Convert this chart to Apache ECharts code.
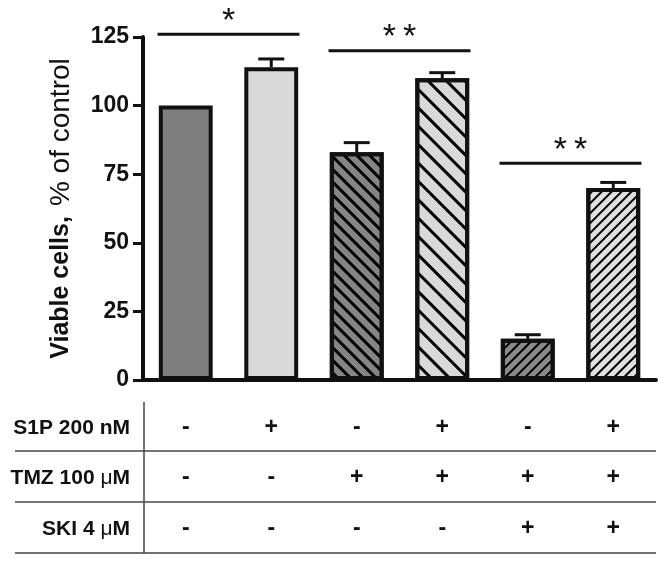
<!DOCTYPE html>
<html>
<head>
<meta charset="utf-8">
<script src="https://cdn.jsdelivr.net/npm/echarts@6/dist/echarts.min.js"></script>
<style>
html,body{margin:0;padding:0;background:#fff;}
#c{width:666px;height:562px;}
</style>
</head>
<body>
<div id="c"></div>
<script>
// ---- data ----
var categories = ['c1', 'c2', 'c3', 'c4', 'c5', 'c6'];
var viable = [100, 114, 83, 110, 15, 70];          // % of control
var sem = [0, 3, 3.5, 2, 1.5, 2];                   // upper error
var yTicks = {min: 0, max: 125, interval: 25};
var rowLabels = ['S1P 200 nM', 'TMZ 100 {m|\u03bc}M', 'SKI 4 {m|\u03bc}M'];
var s1pRow = ['-', '+', '-', '+', '-', '+'];
var tmzRow = ['-', '-', '+', '+', '+', '+'];
var skiRow = ['-', '-', '-', '-', '+', '+'];
var sigPairs = [[0, 1], [2, 3], [4, 5]];
var sigLevel = [126, 120, 79];
var sigMarks = ['*', '**', '**'];

// ---- styles ----
var FONT = 'Liberation Sans, Arial, sans-serif';
var fills = ['#7f7f7f', '#d9d9d9', '#858585', '#d9d9d9', '#8a8a8a', '#e0e0e0'];
function stripe(w, gap, rot) {
  return {symbol: 'rect', symbolSize: 1, symbolKeepAspect: false,
          dashArrayX: [1, 0], dashArrayY: [w, gap], rotation: rot, color: '#000'};
}
var decals = [null, null,
  stripe(2.5, 6, Math.PI / 4),
  stripe(2.5, 10, Math.PI / 4),
  stripe(1.6, 4.8, -Math.PI / 4),
  stripe(1.6, 4.8, -Math.PI / 4)];

var barData = viable.map(function (v, i) {
  var st = {color: fills[i], borderColor: '#111', borderWidth: 4};
  if (decals[i]) st.decal = decals[i];
  return {value: v, itemStyle: st};
});

var rowAxis = function (row, idx, offset) {
  return {
    type: 'category', gridIndex: 0, data: row, position: 'bottom', offset: offset,
    axisLine: {show: false}, axisTick: {show: false},
    axisLabel: {margin: 0, verticalAlign: 'middle', fontFamily: FONT, fontWeight: 'bold', fontSize: 23, color: '#111', interval: 0},
    name: rowLabels[idx], nameLocation: 'start', nameGap: 13,
    nameTextStyle: {fontFamily: FONT, fontWeight: 'bold', fontSize: 21, color: '#111', align: 'right', verticalAlign: 'middle',
      rich: {m: {fontFamily: FONT, fontSize: 21, fontWeight: 'normal', color: '#111'}}}
  };
};

var chart = echarts.init(document.getElementById('c'), null, {renderer: 'canvas'});
chart.setOption({
  backgroundColor: '#fff',
  animation: false,
  grid: {left: 143, right: 10, top: 37, bottom: 182, containLabel: false},
  xAxis: [
    {type: 'category', data: categories,
     axisLine: {show: true, lineStyle: {color: '#111', width: 4}},
     axisTick: {show: false}, axisLabel: {show: false}},
    rowAxis(s1pRow, 0, 48),
    rowAxis(tmzRow, 1, 98),
    rowAxis(skiRow, 2, 149)
  ],
  yAxis: {
    type: 'value', min: yTicks.min, max: yTicks.max, interval: yTicks.interval,
    splitLine: {show: false},
    axisLine: {show: true, lineStyle: {color: '#111', width: 4}},
    axisTick: {show: true, length: 10, lineStyle: {color: '#111', width: 3}},
    axisLabel: {margin: 14, fontFamily: FONT, fontWeight: 'bold', fontSize: 23, color: '#111'},
    name: '{b|Viable cells,}   {n|% of control}',
    nameLocation: 'middle', nameRotate: 90, nameGap: 68,
    nameTextStyle: {rich: {
      b: {fontFamily: FONT, fontWeight: 'bold', fontSize: 25, color: '#111'},
      n: {fontFamily: FONT, fontWeight: 'normal', fontSize: 28, color: '#111'}
    }}
  },
  series: [
    {type: 'bar', data: barData, barWidth: '63%', z: 2},
    {type: 'custom', z: 3, clip: false,
     data: viable.map(function (v, i) { return [i, v, v + sem[i]]; }),
     renderItem: function (params, api) {
       var i = api.value(0);
       if (!(sem[i] > 0)) return null;
       var a = api.coord([i, api.value(1)]);
       var b = api.coord([i, api.value(2)]);
       var hw = 13;
       return {type: 'group', children: [
         {type: 'line', shape: {x1: a[0], y1: a[1], x2: b[0], y2: b[1]}, style: {stroke: '#111', lineWidth: 3}},
         {type: 'line', shape: {x1: b[0] - hw, y1: b[1], x2: b[0] + hw, y2: b[1]}, style: {stroke: '#111', lineWidth: 3}}
       ]};
     }},
    {type: 'custom', z: 3, clip: false,
     data: sigPairs.map(function (p, k) { return [p[0], p[1], sigLevel[k]]; }),
     renderItem: function (params, api) {
       var p0 = api.coord([api.value(0), api.value(2)]);
       var p1 = api.coord([api.value(1), api.value(2)]);
       var half = api.size([1, 0])[0] * 0.33;
       var mark = sigMarks[params.dataIndex].split('').join('\u2009');
       return {type: 'group', children: [
         {type: 'line', shape: {x1: p0[0] - half, y1: p0[1], x2: p1[0] + half, y2: p1[1]}, style: {stroke: '#111', lineWidth: 3}},
         {type: 'text', style: {text: mark, x: (p0[0] + p1[0]) / 2, y: p0[1] - 13,
           align: 'center', verticalAlign: 'middle', font: 'normal 34px ' + FONT, fill: '#111'}}
       ]};
     }}
  ],
  graphic: [
    {type: 'line', shape: {x1: 15, y1: 451, x2: 656, y2: 451}, style: {stroke: '#444', lineWidth: 1.5}},
    {type: 'line', shape: {x1: 15, y1: 502, x2: 656, y2: 502}, style: {stroke: '#444', lineWidth: 1.5}},
    {type: 'line', shape: {x1: 15, y1: 553, x2: 656, y2: 553}, style: {stroke: '#444', lineWidth: 1.5}},
    {type: 'line', shape: {x1: 144, y1: 402, x2: 144, y2: 553}, style: {stroke: '#444', lineWidth: 1.5}}
  ]
});
</script>
</body>
</html>
